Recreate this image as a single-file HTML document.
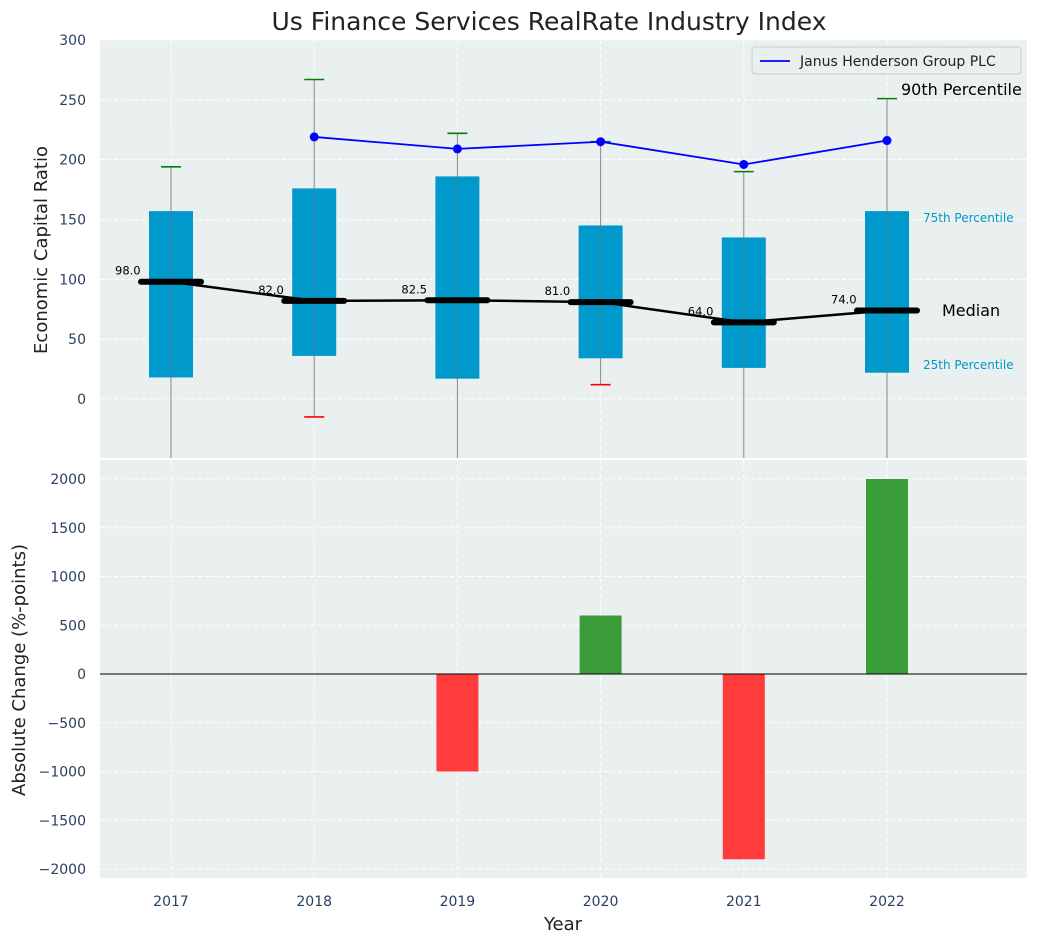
<!DOCTYPE html>
<html><head><meta charset="utf-8"><style>
body{margin:0;background:#fff;font-family:"Liberation Sans","DejaVu Sans",sans-serif}
svg text{font-family:"DejaVu Sans","Liberation Sans",sans-serif}
</style></head><body>
<svg id="c" width="1039" height="942" xmlns="http://www.w3.org/2000/svg"></svg>
<script>
const years=[2017,2018,2019,2020,2021,2022];
const q25=[18,36,17,34,26,22];
const q75=[157,176,186,145,135,157];
const medians=[98.0,82.0,82.5,81.0,64.0,74.0];
const p90=[194,267,222,215,190,251];
const p10=[-60,-15,-60,12,-60,-60];
const lowVisible=[false,true,false,true,false,false];
const janusYears=[2018,2019,2020,2021,2022];
const janusVals=[219,209,215,196,216];
const changeVals=[0,0,-1000,600,-1900,2000];
const topTicks=[0,50,100,150,200,250,300];
const botTicks=[-2000,-1500,-1000,-500,0,500,1000,1500,2000];

const NS="http://www.w3.org/2000/svg";
const svg=document.getElementById('c');
function el(t,a,txt){const e=document.createElementNS(NS,t);for(const k in a)e.setAttribute(k,a[k]);if(txt!==undefined)e.textContent=txt;svg.appendChild(e);return e;}
const X0=100,X1=1027;
const x=v=>171+(v-2017)*143.2;
const T0=40,T1=458,B0=460,B1=878;
const yT=v=>399-v*(359/300);
const yB=v=>674-v*0.0975;

// panels
let p=el('rect',{x:X0,y:T0,width:X1-X0,height:T1-T0,fill:'#eaeff0'});

p=el('rect',{x:X0,y:B0,width:X1-X0,height:B1-B0,fill:'#eaeff0'});


// grids
years.forEach(yv=>{[[T0,T1],[B0,B1]].forEach(r=>{el('line',{x1:x(yv),x2:x(yv),y1:r[0],y2:r[1],stroke:'#fff','stroke-dasharray':'4,3'});});});
topTicks.forEach(t=>{el('line',{x1:X0,x2:X1,y1:yT(t),y2:yT(t),stroke:'#fff','stroke-dasharray':'4,3'});
 const l=el('text',{x:86,y:yT(t)+5,'text-anchor':'end','font-size':14,fill:'#2a3f5f'},t);
 });
botTicks.forEach(t=>{el('line',{x1:X0,x2:X1,y1:yB(t),y2:yB(t),stroke:'#fff','stroke-dasharray':'4,3'});
 const l=el('text',{x:86,y:yB(t)+5,'text-anchor':'end','font-size':14,fill:'#2a3f5f'},String(t).replace('-','\u2212'));
 });

// whiskers, boxes
const clipTop=v=>Math.max(T0,Math.min(T1,yT(v)));
years.forEach((yv,i)=>{
 const cx=x(yv);
 el('line',{x1:cx,x2:cx,y1:clipTop(p90[i]),y2:clipTop(p10[i]),stroke:'#888','stroke-width':1});
 const b=el('rect',{x:cx-22,y:yT(q75[i]),width:44,height:yT(q25[i])-yT(q75[i]),fill:'#0099cc'});
 
 el('line',{x1:cx,x2:cx,y1:yT(q75[i]),y2:yT(q25[i]),stroke:'#4a7f93','stroke-width':1});
 const c=el('line',{x1:cx-10,x2:cx+10,y1:yT(p90[i]),y2:yT(p90[i]),stroke:'green','stroke-width':1.6});
 
 if(lowVisible[i]){el('line',{x1:cx-10,x2:cx+10,y1:yT(p10[i]),y2:yT(p10[i]),stroke:'red','stroke-width':1.6});}
});
// median line
el('polyline',{points:years.map((yv,i)=>x(yv)+','+yT(medians[i])).join(' '),fill:'none',stroke:'#000','stroke-width':2.5});
years.forEach((yv,i)=>{const cx=x(yv);
 const m=el('line',{x1:cx-30,x2:cx+30,y1:yT(medians[i]),y2:yT(medians[i]),stroke:'#000','stroke-width':6,'stroke-linecap':'round'});
 
 el('text',{x:cx-56,y:yT(medians[i])-7,'font-size':11.5,fill:'#000'},medians[i].toFixed(1));
});
// janus
el('polyline',{points:janusYears.map((yv,i)=>x(yv)+','+yT(janusVals[i])).join(' '),fill:'none',stroke:'#0000ff','stroke-width':1.8});
janusYears.forEach((yv,i)=>{const d=el('circle',{cx:x(yv),cy:yT(janusVals[i]),r:4.5,fill:'#0000ff'});
 });
// annotations
el('text',{x:901,y:95,'font-size':16,fill:'#000'},'90th Percentile');
el('text',{x:923,y:222,'font-size':12,fill:'#0099cc'},'75th Percentile');
el('text',{x:942,y:316,'font-size':16,fill:'#000'},'Median');
el('text',{x:923,y:369,'font-size':12,fill:'#0099cc'},'25th Percentile');
// legend
const lg=el('rect',{x:752,y:47,width:269,height:27,fill:'#eaeff0',stroke:'#ccc',rx:3});

el('line',{x1:760,x2:790,y1:61,y2:61,stroke:'#0000ff','stroke-width':1.8});
el('text',{x:800,y:66,'font-size':14,fill:'#222'},'Janus Henderson Group PLC');

// bars
years.forEach((yv,i)=>{const v=changeVals[i];if(v===0)return;
 const r=el('rect',{x:x(yv)-21,y:Math.min(yB(v),yB(0)),width:42,height:Math.abs(yB(v)-yB(0)),fill:v>0?'#3a9d3a':'#ff3b3b'});
 });
el('line',{x1:X0,x2:X1,y1:yB(0),y2:yB(0),stroke:'#000','stroke-width':1});

// x labels
years.forEach(yv=>{const t=el('text',{x:x(yv),y:906,'text-anchor':'middle','font-size':14,fill:'#2a3f5f'},yv);
 });
let t=el('text',{x:563,y:930,'text-anchor':'middle','font-size':18,fill:'#222'},'Year');

t=el('text',{x:549,y:30,'text-anchor':'middle','font-size':25,fill:'#222'},'Us Finance Services RealRate Industry Index');

t=el('text',{x:0,y:0,'text-anchor':'middle','font-size':18,fill:'#222',transform:'translate(47,250) rotate(-90)'},'Economic Capital Ratio');

t=el('text',{x:0,y:0,'text-anchor':'middle','font-size':18,fill:'#222',transform:'translate(25,670) rotate(-90)'},'Absolute Change (%-points)');

</script>
</body></html>
